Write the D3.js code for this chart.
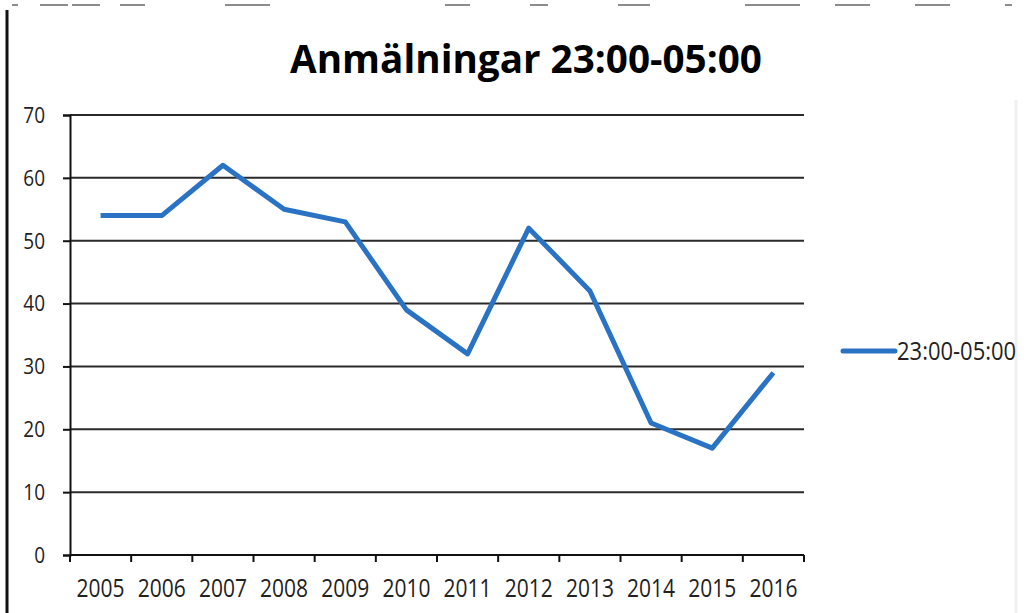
<!DOCTYPE html>
<html><head><meta charset="utf-8">
<script src="https://cdn.jsdelivr.net/npm/d3@7"></script>
<style>body{margin:0;background:#fff}svg{display:block}</style>
</head><body>
<svg id="c" width="1031" height="613"></svg>
<script>
const title = "Anmälningar 23:00-05:00";
const seriesName = "23:00-05:00";
const years = ["2005","2006","2007","2008","2009","2010","2011","2012","2013","2014","2015","2016"];
const values = [54, 54, 62, 55, 53, 39, 32, 52, 42, 21, 17, 29];
const yTicks = [0, 10, 20, 30, 40, 50, 60, 70];

const svg = d3.select("#c");
const W = 1031, H = 613;
const m = {left: 70, right: 804, top: 115, bottom: 555};
const font = "'Open Sans', sans-serif";

// scan border artifacts
svg.append("line").attr("x1", 7).attr("x2", 7).attr("y1", 10).attr("y2", H)
  .attr("stroke", "#111").attr("stroke-width", 3);
svg.append("line").attr("x1", 1016).attr("x2", 1016).attr("y1", 100).attr("y2", H)
  .attr("stroke", "#f0f0f0").attr("stroke-width", 3);
const topSegs = [[12,18],[40,68],[72,100],[120,145],[225,270],[445,470],[530,548],[618,650],[745,800],[835,870],[915,950],[1005,1012]];
svg.append("g").selectAll("line").data(topSegs).join("line")
  .attr("x1", d => d[0]).attr("x2", d => d[1]).attr("y1", 5).attr("y2", 5)
  .attr("stroke", "#666").attr("stroke-width", 1.5);

const x = d3.scaleBand().domain(years).range([m.left, m.right]).padding(0);
const y = d3.scaleLinear().domain([0, 70]).range([m.bottom, m.top]);

// gridlines
svg.append("g").selectAll("line").data(yTicks.filter(t => t > 0)).join("line")
  .attr("x1", m.left).attr("x2", m.right)
  .attr("y1", d => y(d)).attr("y2", d => y(d))
  .attr("stroke", "#2a2a2a").attr("stroke-width", 2);

// y axis
const yAxis = svg.append("g").attr("transform", `translate(${m.left},0)`)
  .call(d3.axisLeft(y).tickValues(yTicks).tickSize(7).tickFormat(""));
yAxis.select(".domain").attr("stroke", "#111").attr("stroke-width", 2);
yAxis.selectAll(".tick line").attr("stroke", "#111").attr("stroke-width", 2);
svg.append("g").selectAll("text").data(yTicks).join("text")
  .attr("transform", d => `translate(45,${y(d) + 7.8}) scale(1,1.15)`)
  .attr("text-anchor", "end").attr("font-family", font).attr("font-size", 19)
  .attr("fill", "#222").text(d => d);

// x axis: ticks at category boundaries
const bounds = years.map(d => x(d)).concat([m.right]);
const xAxisG = svg.append("g");
xAxisG.append("line").attr("x1", m.left).attr("x2", m.right).attr("y1", m.bottom).attr("y2", m.bottom)
  .attr("stroke", "#111").attr("stroke-width", 2);
xAxisG.selectAll("line.t").data(bounds).join("line").attr("class", "t")
  .attr("x1", d => d).attr("x2", d => d).attr("y1", m.bottom).attr("y2", m.bottom + 7)
  .attr("stroke", "#111").attr("stroke-width", 2);
xAxisG.selectAll("text").data(years).join("text")
  .attr("transform", d => `translate(${x(d) + x.bandwidth() / 2},597) scale(1,1.2)`)
  .attr("text-anchor", "middle").attr("font-family", font).attr("font-size", 21)
  .attr("fill", "#222").text(d => d);

// line
const line = d3.line().x((d, i) => x(years[i]) + x.bandwidth() / 2).y(d => y(d));
svg.append("path").datum(values).attr("d", line)
  .attr("fill", "none").attr("stroke", "#2a73c4").attr("stroke-width", 5)
  .attr("stroke-linejoin", "round");

// title
const t = svg.append("text").attr("x", 526).attr("y", 73).attr("text-anchor", "middle")
  .attr("font-family", font).attr("font-weight", "bold").attr("font-size", 34)
  .attr("fill", "#000").text(title);
const tw = t.node().getComputedTextLength();
t.attr("font-size", 34 * 472 / tw);

// legend
svg.append("line").attr("x1", 843).attr("x2", 895).attr("y1", 351).attr("y2", 351)
  .attr("stroke", "#2a73c4").attr("stroke-width", 5).attr("stroke-linecap", "round");
svg.append("text").attr("transform", "translate(897,360) scale(1,1.15)")
  .attr("font-family", font).attr("font-size", 22)
  .attr("fill", "#222").text(seriesName);
</script>
</body></html>
